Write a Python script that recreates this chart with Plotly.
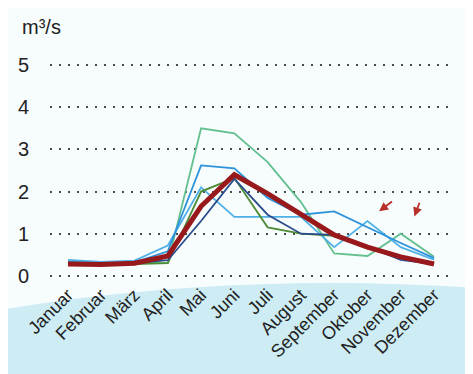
import plotly.graph_objects as go

months = ["Januar", "Februar", "März", "April", "Mai", "Juni", "Juli",
          "August", "September", "Oktober", "November", "Dezember"]

teal_green = [0.35, 0.32, 0.33, 0.30, 3.50, 3.38, 2.70, 1.75, 0.53, 0.47, 1.00, 0.45]
mid_blue   = [0.33, 0.30, 0.32, 0.58, 2.62, 2.55, 1.85, 1.45, 1.53, 1.15, 0.78, 0.42]
light_blue = [0.38, 0.33, 0.36, 0.72, 2.10, 1.40, 1.40, 1.40, 0.68, 1.30, 0.68, 0.38]
olive      = [0.30, 0.27, 0.28, 0.30, 2.00, 2.32, 1.15, 1.00, 0.95, 0.65, 0.45, 0.30]
navy       = [0.30, 0.28, 0.30, 0.37, 1.30, 2.30, 1.45, 1.00, 0.97, 0.70, 0.38, 0.28]
mean_red   = [0.28, 0.27, 0.30, 0.47, 1.65, 2.40, 1.95, 1.45, 0.97, 0.68, 0.45, 0.28]

y_ticks = [0, 1, 2, 3, 4, 5]

series = [
    (teal_green, "#63c08e", 1.8),
    (light_blue, "#4fb0e8", 1.8),
    (mid_blue, "#2d93d9", 1.8),
    (olive, "#4f8c35", 1.8),
    (navy, "#2b4d8c", 1.8),
    (mean_red, "#98191c", 5),
]

fig = go.Figure()
for vals, col, w in series:
    fig.add_trace(go.Scatter(x=months, y=vals, mode="lines",
                             line=dict(color=col, width=w), showlegend=False,
                             hoverinfo="skip"))

# decorative light blue arc at the bottom
fig.add_shape(type="circle", xref="paper", yref="paper",
              x0=-1.045, x1=2.44, y0=-0.014, y1=-2.1,
              fillcolor="#cdecf4", line=dict(width=0), layer="below")

fig.add_annotation(text="m³/s", xref="paper", yref="paper",
                   x=-0.075, y=1.155, xanchor="left", yanchor="middle",
                   showarrow=False, font=dict(size=20, color="#222"))

# two small red pointer arrows near Oktober / November
for hx, hy, tx, ty in [(9.35, 1.53, 9.78, 1.79), (10.41, 1.41, 10.58, 1.77)]:
    fig.add_annotation(x=hx, y=hy, ax=tx, ay=ty, xref="x", yref="y",
                       axref="x", ayref="y", text="", showarrow=True,
                       arrowhead=2, arrowsize=1, arrowwidth=1.8,
                       arrowcolor="#b8302a")

# page body has an 8px margin: shrink the figure so the plot area lands
# at the same place as in the reference
fig.update_layout(
    width=465, height=366,
    margin=dict(l=42, r=21, t=53, b=94),
    paper_bgcolor="#f7fcfd", plot_bgcolor="rgba(0,0,0,0)",
    font=dict(family="Liberation Sans, Arial, sans-serif", color="#222"),
    xaxis=dict(type="category", range=[-0.54, 11.54], showgrid=False,
               showline=False, zeroline=False, tickangle=-45, automargin=False,
               tickfont=dict(size=18, color="#222"), ticks=""),
    yaxis=dict(range=[-0.1, 5.1], tickvals=y_ticks, showgrid=True,
               gridcolor="#4a4a4a", gridwidth=2, griddash="2px,7px",
               zeroline=False, showline=False, ticks="", automargin=False,
               tickfont=dict(size=20, color="#222"), ticklabelstandoff=20),
)

fig.write_html("out.html")
